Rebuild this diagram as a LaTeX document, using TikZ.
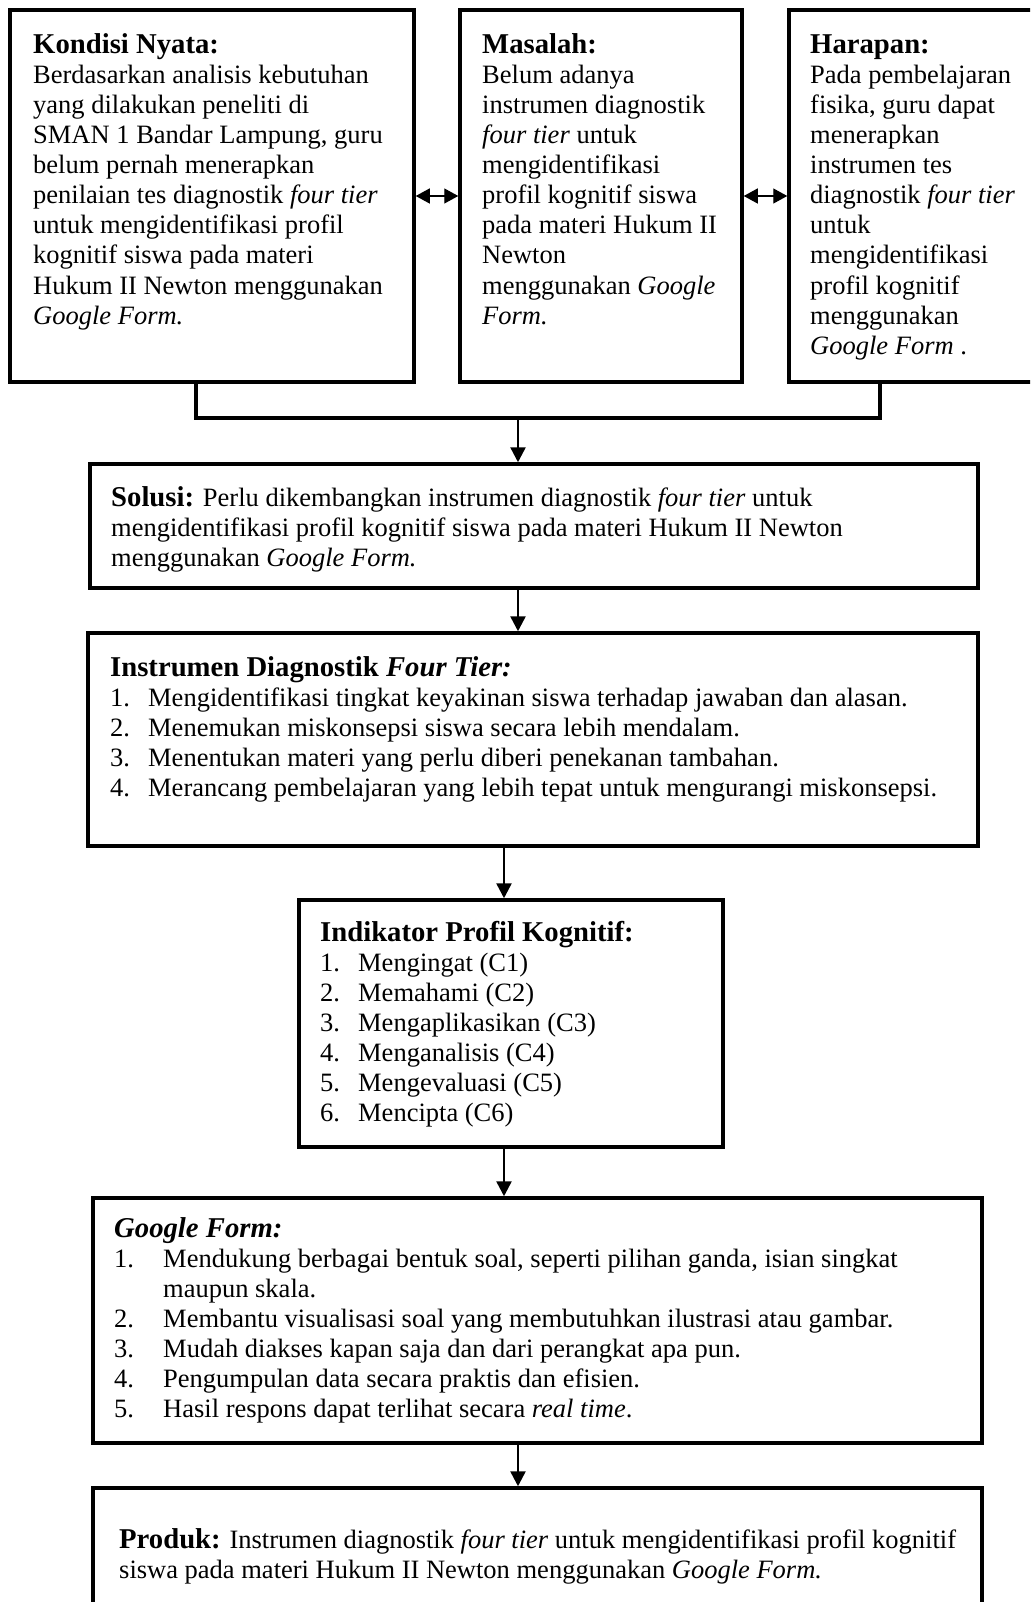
\documentclass[tikz,border=0pt]{standalone}
\usepackage{fontspec}
\setmainfont{Liberation Serif}
\usetikzlibrary{arrows.meta}
\newcommand\myhd[1]{{\fontsize{28.7}{30.1}\selectfont\bfseries #1}}
\newcommand\itm[2]{\makebox[#1][l]{#2}}
\begin{document}
\begin{tikzpicture}[x=1pt,y=-1pt,
  box/.style={draw=black, line width=3.5pt, rectangle, inner sep=0pt},
  txt/.style={anchor=north west, inner sep=0pt, align=left, font=\fontsize{26.5}{30.1}\selectfont},
  elbow/.style={line width=3.5pt},
  arr/.style={line width=2.5pt, -{Triangle[length=15pt,width=15pt]}},
  dbl/.style={line width=1.3pt, {Triangle[length=14pt,width=15pt]}-{Triangle[length=14pt,width=15pt]}}
]
\useasboundingbox (0,0) rectangle (1030,1602);
\clip (0,0) rectangle (1030,1602);
\fill[white] (0,0) rectangle (1030,1602);

% boxes
\node[box, minimum width=404pt, minimum height=372pt] (kondisi) at (212,196) {};
\node[box, minimum width=282pt, minimum height=372pt] (masalah) at (601,196) {};
\node[box, minimum width=256pt, minimum height=372pt] (harapan) at (917,196) {};
\node[box, minimum width=888pt, minimum height=124pt] (solusi) at (534,526) {};
\node[box, minimum width=890pt, minimum height=213pt] (instr) at (533,739.5) {};
\node[box, minimum width=424pt, minimum height=247pt] (indik) at (511,1023.5) {};
\node[box, minimum width=889pt, minimum height=245pt] (gform) at (537.5,1320.5) {};
\node[box, minimum width=889pt, minimum height=152pt] (produk) at (537.5,1564) {};

% texts
\node[txt] (kondisiT) at (33,32) {\strut\myhd{Kondisi Nyata:}\\
Berdasarkan analisis kebutuhan\\
yang dilakukan peneliti di\\
SMAN 1 Bandar Lampung, guru\\
belum pernah menerapkan\\
penilaian tes diagnostik \textit{four tier}\\
untuk mengidentifikasi profil\\
kognitif siswa pada materi\\
Hukum II Newton menggunakan\\
\textit{Google Form.}};

\node[txt] (masalahT) at (482,32) {\strut\myhd{Masalah:}\\
Belum adanya\\
instrumen diagnostik\\
\textit{four tier} untuk\\
mengidentifikasi\\
profil kognitif siswa\\
pada materi Hukum II\\
Newton\\
menggunakan \textit{Google}\\
\textit{Form.}};

\node[txt] (harapanT) at (810,32) {\strut\myhd{Harapan:}\\
Pada pembelajaran\\
fisika, guru dapat\\
menerapkan\\
instrumen tes\\
diagnostik \textit{four tier}\\
untuk\\
mengidentifikasi\\
profil kognitif\\
menggunakan\\
\textit{Google Form} .};

\node[txt] (solusiT) at (111,485) {\strut\myhd{Solusi:} Perlu dikembangkan instrumen diagnostik \textit{four tier} untuk\\
mengidentifikasi profil kognitif siswa pada materi Hukum II Newton\\
menggunakan \textit{Google Form.}};

\node[txt] (instrT) at (110,655) {\strut\myhd{Instrumen Diagnostik \textit{Four Tier:}}\\
\itm{38pt}{1.}Mengidentifikasi tingkat keyakinan siswa terhadap jawaban dan alasan.\\
\itm{38pt}{2.}Menemukan miskonsepsi siswa secara lebih mendalam.\\
\itm{38pt}{3.}Menentukan materi yang perlu diberi penekanan tambahan.\\
\itm{38pt}{4.}Merancang pembelajaran yang lebih tepat untuk mengurangi miskonsepsi.};

\node[txt] (indikT) at (320,920) {\strut\myhd{Indikator Profil Kognitif:}\\
\itm{38pt}{1.}Mengingat (C1)\\
\itm{38pt}{2.}Memahami (C2)\\
\itm{38pt}{3.}Mengaplikasikan (C3)\\
\itm{38pt}{4.}Menganalisis (C4)\\
\itm{38pt}{5.}Mengevaluasi (C5)\\
\itm{38pt}{6.}Mencipta (C6)};

\node[txt] (gformT) at (114,1216) {\strut\myhd{\textit{Google Form:}}\\
\itm{49pt}{1.}Mendukung berbagai bentuk soal, seperti pilihan ganda, isian singkat\\
\hspace*{49pt}maupun skala.\\
\itm{49pt}{2.}Membantu visualisasi soal yang membutuhkan ilustrasi atau gambar.\\
\itm{49pt}{3.}Mudah diakses kapan saja dan dari perangkat apa pun.\\
\itm{49pt}{4.}Pengumpulan data secara praktis dan efisien.\\
\itm{49pt}{5.}Hasil respons dapat terlihat secara \textit{real time}.};

\node[txt] (produkT) at (119,1527) {\strut\myhd{Produk:} Instrumen diagnostik \textit{four tier} untuk mengidentifikasi profil kognitif\\
siswa pada materi Hukum II Newton menggunakan \textit{Google Form.}};

% connectors
\coordinate (j1) at (196,418);
\coordinate (j2) at (880,418);
\coordinate (jm) at (518,418);
\coordinate (c2) at (504,0);

\draw[dbl] (kondisi.east) -- (masalah.west);
\draw[dbl] (masalah.east) -- (harapan.west);
\draw[elbow] (kondisi.south -| j1) -- (j1) -- (j2) -- (harapan.south -| j2);
\draw[arr] (jm) -- (solusi.north -| jm);
\draw[arr] (solusi.south -| jm) -- (instr.north -| jm);
\draw[arr] (instr.south -| c2) -- (indik.north -| c2);
\draw[arr] (indik.south -| c2) -- (gform.north -| c2);
\draw[arr] (gform.south -| jm) -- (produk.north -| jm);
\end{tikzpicture}
\end{document}
